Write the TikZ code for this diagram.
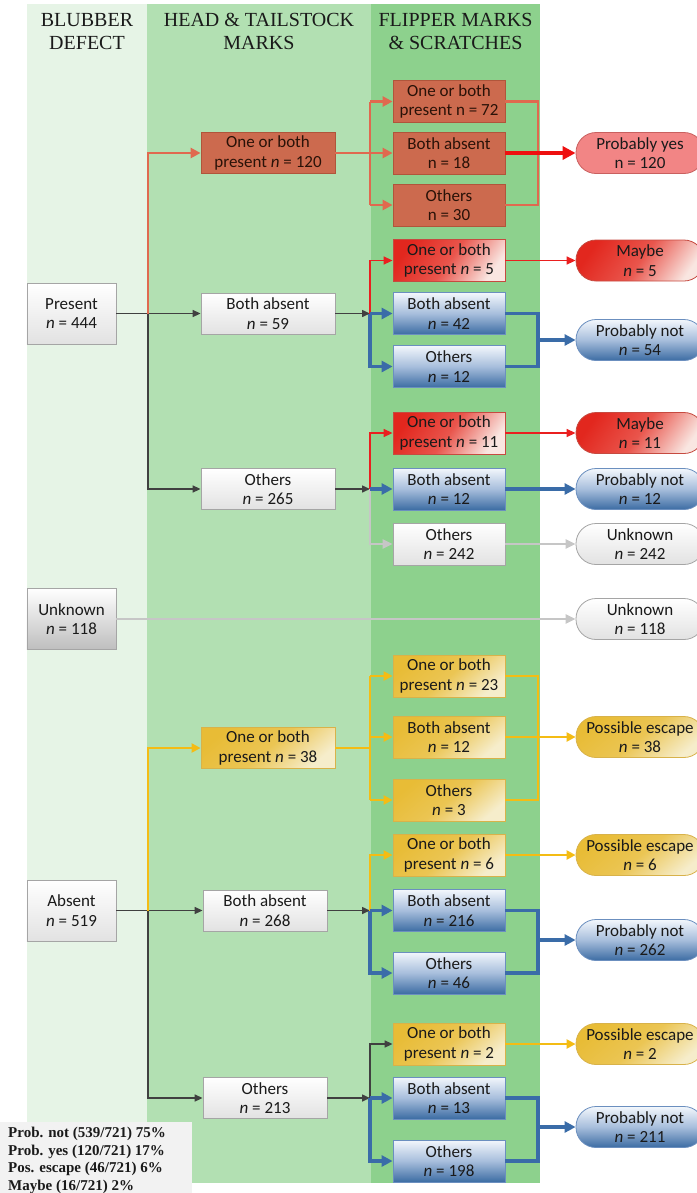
\documentclass[tikz,border=0pt]{standalone}
\usepackage{fontspec}
\setmainfont{Carlito}
\newfontfamily\hdserif{Liberation Serif}
\usetikzlibrary{arrows.meta}
\definecolor{band1}{HTML}{E6F4E6}
\definecolor{band2}{HTML}{B2E0B2}
\definecolor{band3}{HTML}{8DD18D}
\definecolor{txt}{HTML}{1A1A1A}
\definecolor{bordgray}{HTML}{A5A5A5}
\definecolor{wbot}{HTML}{E2E2E2}
\definecolor{gbot}{HTML}{BEBEBE}
\definecolor{brnF}{HTML}{CC6A4E}
\definecolor{brnB}{HTML}{B0553B}
\definecolor{brnT}{HTML}{2A1208}
\definecolor{brnL}{HTML}{E0694F}
\definecolor{pnkF}{HTML}{F28585}
\definecolor{pnkB}{HTML}{C9605F}
\definecolor{redA}{HTML}{E2271E}
\definecolor{redM}{HTML}{E9554C}
\definecolor{redC}{HTML}{F9E6E1}
\definecolor{redB}{HTML}{C64A40}
\definecolor{bluA}{HTML}{F3F7FC}
\definecolor{bluM}{HTML}{A7BEDC}
\definecolor{bluC}{HTML}{3C6CA3}
\definecolor{bluB}{HTML}{6B8FBF}
\definecolor{ylwA}{HTML}{E8BC36}
\definecolor{ylwM}{HTML}{EBC553}
\definecolor{ylwC}{HTML}{F6EDCB}
\definecolor{ylwB}{HTML}{D8B24A}
\definecolor{dkc}{HTML}{404040}
\definecolor{redL}{HTML}{EA1F1F}
\definecolor{redK}{HTML}{EE1010}
\definecolor{bluL}{HTML}{3A6CA8}
\definecolor{ylwL}{HTML}{F4BC14}
\definecolor{grL}{HTML}{C6C6C6}
\definecolor{legbg}{HTML}{F2F2F2}
\begin{document}
\begin{tikzpicture}[x=1bp,y=-1bp,
  nf/.style={font=\fontsize{17bp}{19.5bp}\selectfont},
  box/.style={nf, align=center, inner sep=0pt, text=txt, line width=0.8bp},
  colA/.style={box, minimum width=89bp, minimum height=61bp},
  colB/.style={box, minimum width=134bp, minimum height=41bp},
  colBn/.style={box, minimum width=124bp, minimum height=41bp},
  colC/.style={box, minimum width=112bp, minimum height=42bp},
  outn/.style={box, rounded corners=20bp, minimum width=128bp, minimum height=41bp},
  wht/.style={draw=bordgray, top color=white, bottom color=wbot},
  gry/.style={draw=bordgray, top color=white, bottom color=gbot},
  brn/.style={draw=brnB, fill=brnF, text=brnT},
  pnk/.style={draw=pnkB, fill=pnkF},
  rdd/.style={draw=redB, top color=redA, bottom color=redC, middle color=redM, shading angle=55},
  blu/.style={draw=bluB, top color=bluA, bottom color=bluC, middle color=bluM},
  ylw/.style={draw=ylwB, top color=ylwA, bottom color=ylwC, middle color=ylwM, shading angle=40},
  hd/.style={font=\hdserif\fontsize{20bp}{23bp}\selectfont, align=center, inner sep=0pt, anchor=north, text=txt},
  dk/.style={draw=dkc, line width=1.5bp},
  dka/.style={dk, -{Triangle[length=8bp,width=7bp]}},
  bn/.style={draw=brnL, line width=2.5bp},
  bna/.style={bn, -{Triangle[length=10bp,width=10bp]}},
  rdt/.style={draw=redL, line width=1.5bp},
  rdta/.style={rdt, -{Triangle[length=9bp,width=8bp]}},
  rdk/.style={draw=redK, line width=3.5bp, -{Triangle[length=13bp,width=13bp]}},
  bl/.style={draw=bluL, line width=3.5bp},
  bla/.style={bl, -{Triangle[length=11bp,width=11bp]}},
  yl/.style={draw=ylwL, line width=2.2bp},
  yla/.style={yl, -{Triangle[length=9bp,width=9bp]}},
  gl/.style={draw=grL, line width=2.2bp},
  gla/.style={gl, -{Triangle[length=10bp,width=9bp]}}
]
\useasboundingbox (0,0) rectangle (697,1193);
% bands
\fill[band1] (27,4) rectangle (147,1183);
\fill[band2] (147,4) rectangle (371,1183);
\fill[band3] (371,4) rectangle (540,1183);
% headers
\node[hd] (h1) at (87,13.3) {BLUBBER\\DEFECT};
\node[hd] (h2) at (259,13.3) {HEAD \& TAILSTOCK\\MARKS};
\node[hd] (h3) at (455.5,13.3) {FLIPPER MARKS\\\& SCRATCHES};
% column 1
\node[colA, wht] (pres) at (71.5,313.5) {Present\\\textit{n} = 444};
\node[colA, gry] (unk) at (71.5,619) {Unknown\\\textit{n} = 118};
\node[colA, wht] (abs) at (71.5,910.5) {Absent\\\textit{n} = 519};
% column 2
\node[colB, brn] (g1) at (268,153) {One or both\\present \textit{n} = 120};
\node[colB, wht] (g2) at (268,313.5) {Both absent\\\textit{n} = 59};
\node[colB, wht] (g3) at (268,489) {Others\\\textit{n} = 265};
\node[colB, ylw] (g4) at (268,748) {One or both\\present \textit{n} = 38};
\node[colBn, wht] (g5) at (265,910.5) {Both absent\\\textit{n} = 268};
\node[colBn, wht] (g6) at (265,1098) {Others\\\textit{n} = 213};
% column 3
\node[colC, brn] (a1) at (449,101.5) {One or both\\present n = 72};
\node[colC, brn] (a2) at (449,153) {Both absent\\n = 18};
\node[colC, brn] (a3) at (449,205) {Others\\n = 30};
\node[colC, rdd] (b1) at (449,260.5) {One or both\\present \textit{n} = 5};
\node[colC, blu] (b2) at (449,313.5) {Both absent\\\textit{n} = 42};
\node[colC, blu] (b3) at (449,366.5) {Others\\\textit{n} = 12};
\node[colC, rdd] (c1) at (449,433) {One or both\\present \textit{n} = 11};
\node[colC, blu] (c2) at (449,489) {Both absent\\\textit{n} = 12};
\node[colC, wht] (c3) at (449,544) {Others\\\textit{n} = 242};
\node[colC, ylw] (d1) at (449,676) {One or both\\present \textit{n} = 23};
\node[colC, ylw] (d2) at (449,737) {Both absent\\\textit{n} = 12};
\node[colC, ylw] (d3) at (449,800) {Others\\\textit{n} = 3};
\node[colC, ylw] (e1) at (449,855) {One or both\\present \textit{n} = 6};
\node[colC, blu] (e2) at (449,910.5) {Both absent\\\textit{n} = 216};
\node[colC, blu] (e3) at (449,973) {Others\\\textit{n} = 46};
\node[colC, ylw] (f1) at (449,1044) {One or both\\present \textit{n} = 2};
\node[colC, blu] (f2) at (449,1098) {Both absent\\\textit{n} = 13};
\node[colC, blu] (f3) at (449,1161) {Others\\\textit{n} = 198};
% outcomes
\node[outn, pnk] (o1) at (640,153) {Probably yes\\n = 120};
\node[outn, rdd] (o2) at (640,260.5) {Maybe\\\textit{n} = 5};
\node[outn, blu] (o3) at (640,340) {Probably not\\\textit{n} = 54};
\node[outn, rdd] (o4) at (640,433) {Maybe\\\textit{n} = 11};
\node[outn, blu] (o5) at (640,489) {Probably not\\\textit{n} = 12};
\node[outn, wht] (o6) at (640,544) {Unknown\\\textit{n} = 242};
\node[outn, wht] (o7) at (640,619) {Unknown\\\textit{n} = 118};
\node[outn, ylw] (o8) at (640,737) {Possible escape\\\textit{n} = 38};
\node[outn, ylw] (o9) at (640,855) {Possible escape\\\textit{n} = 6};
\node[outn, blu] (o10) at (640,940) {Probably not\\\textit{n} = 262};
\node[outn, ylw] (o11) at (640,1044) {Possible escape\\\textit{n} = 2};
\node[outn, blu] (o12) at (640,1127) {Probably not\\\textit{n} = 211};
% junction coordinates
\coordinate (m) at (538,0);
\coordinate (k1) at (148,313.5);
\coordinate (k2) at (148,910.5);
\coordinate (j1) at (370,153);
\coordinate (j2) at (370,313.5);
\coordinate (j3) at (370,489);
\coordinate (j4) at (370,748);
\coordinate (j5) at (370,910.5);
\coordinate (j6) at (370,1098);
% column 1 -> column 2
\draw[dka] (pres.east) -- (g2.west);
\draw[bna] (k1) |- (g1.west);
\draw[dka] (k1) |- (g3.west);
\draw[gla] (unk.east) -- (o7.west);
\draw[dka] (abs.east) -- (g5.west);
\draw[yla] (k2) |- (g4.west);
\draw[dka] (k2) |- (g6.west);
% group 1
\draw[bn] (g1.east) -- (j1);
\draw[bn] (a1.west -| j1) -- (a3.west -| j1);
\draw[bna] (a1.west -| j1) -- (a1.west);
\draw[bna] (j1) -- (a2.west);
\draw[bna] (a3.west -| j1) -- (a3.west);
\draw[bn] (a1.east) -- (a1.east -| m) -- (a3.east -| m) -- (a3.east);
\draw[rdk] (a2.east) -- (o1.west);
% group 2
\draw[dka] (g2.east) -- (j2);
\draw[rdta] (j2) |- (b1.west);
\draw[bla] (j2) -- (b2.west);
\draw[bla] (j2) |- (b3.west);
\draw[rdta] (b1.east) -- (o2.west);
\draw[bl] (b2.east) -- (b2.east -| m) -- (b3.east -| m) -- (b3.east);
\draw[bla] (o3.west -| m) -- (o3.west);
% group 3
\draw[dka] (g3.east) -- (j3);
\draw[rdta] (j3) |- (c1.west);
\draw[gla] (j3) |- (c3.west);
\draw[bla] (j3) -- (c2.west);
\draw[rdta] (c1.east) -- (o4.west);
\draw[bla] (c2.east) -- (o5.west);
\draw[gla] (c3.east) -- (o6.west);
% group 4
\draw[yl] (g4.east) -- (j4);
\draw[yl] (d1.west -| j4) -- (d3.west -| j4);
\draw[yla] (d1.west -| j4) -- (d1.west);
\draw[yla] (d2.west -| j4) -- (d2.west);
\draw[yla] (d3.west -| j4) -- (d3.west);
\draw[yl] (d1.east) -- (d1.east -| m) -- (d3.east -| m) -- (d3.east);
\draw[yla] (d2.east) -- (o8.west);
% group 5
\draw[dka] (g5.east) -- (j5);
\draw[yla] (j5) |- (e1.west);
\draw[bla] (j5) -- (e2.west);
\draw[bla] (j5) |- (e3.west);
\draw[yla] (e1.east) -- (o9.west);
\draw[bl] (e2.east) -- (e2.east -| m) -- (e3.east -| m) -- (e3.east);
\draw[bla] (o10.west -| m) -- (o10.west);
% group 6
\draw[dka] (g6.east) -- (j6);
\draw[dka] (j6) |- (f1.west);
\draw[bla] (j6) -- (f2.west);
\draw[bla] (j6) |- (f3.west);
\draw[yla] (f1.east) -- (o11.west);
\draw[bl] (f2.east) -- (f2.east -| m) -- (f3.east -| m) -- (f3.east);
\draw[bla] (o12.west -| m) -- (o12.west);
% legend
\fill[legbg] (0,1122) rectangle (192,1193);
\node[anchor=north west, inner sep=0pt, align=left, text=txt,
      font=\hdserif\bfseries\fontsize{15bp}{17.5bp}\selectfont] (leg) at (8,1127)
  {Prob. not (539/721) 75\%\\Prob. yes (120/721) 17\%\\Pos. escape (46/721) 6\%\\Maybe (16/721) 2\%};
\end{tikzpicture}
\end{document}
